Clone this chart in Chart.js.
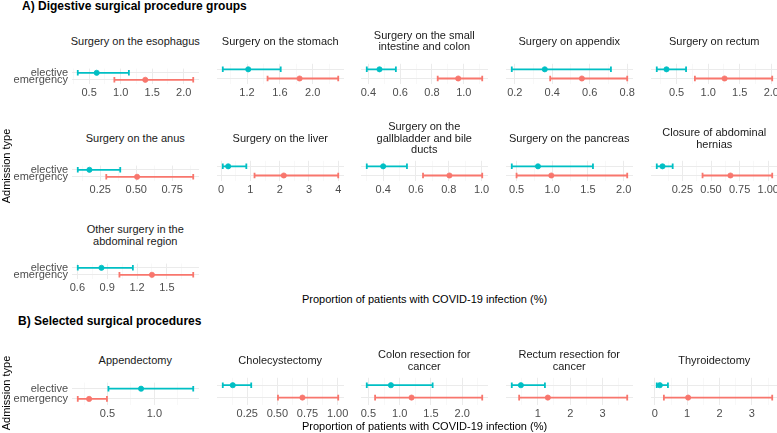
<!DOCTYPE html>
<html>
<head>
<meta charset="utf-8">
<script src="https://cdn.jsdelivr.net/npm/chart.js@4.4.1/dist/chart.umd.min.js"></script>
<style>
  html, body { margin: 0; padding: 0; background: #fff; }
  #page { position: relative; width: 777px; height: 433px; overflow: hidden; font-family: "Liberation Sans", Arial, sans-serif; }
  .txt { position: absolute; white-space: pre; }
  .heading { font-weight: bold; font-size: 12px; color: #000; transform: translateY(-50%); }
  .strip { font-size: 11px; color: #1A1A1A; text-align: center; line-height: 11.7px; transform: translate(-50%, -50%); }
  .axtitle { font-size: 11px; color: #000; transform: translate(-50%, -50%); }
  .ytitle { font-size: 11px; color: #000; transform: translate(-50%, -50%) rotate(-90deg); }
  .pc { position: absolute; }
</style>
</head>
<body>
<div id="page"></div>
<script>
// ---------------- DATA ----------------
const admissionTypes = ["elective", "emergency"];

// A) Digestive surgical procedure groups
const groupTitles = [
  "Surgery on the esophagus",
  "Surgery on the stomach",
  "Surgery on the small\nintestine and colon",
  "Surgery on appendix",
  "Surgery on rectum",
  "Surgery on the anus",
  "Surgery on the liver",
  "Surgery on the\ngallbladder and bile\nducts",
  "Surgery on the pancreas",
  "Closure of abdominal\nhernias",
  "Other surgery in the\nabdominal region"
];
const groupElectiveEst   = [0.62, 1.215, 0.47, 0.36, 0.34, 0.175, 0.24, 0.40, 0.80, 0.076, 0.842];
const groupElectiveLow   = [0.32, 0.905, 0.39, 0.184, 0.186, 0.094, 0.055, 0.30, 0.433, 0.026, 0.604];
const groupElectiveHigh  = [1.13, 1.61, 0.573, 0.713, 0.65, 0.389, 0.86, 0.545, 1.57, 0.165, 1.158];
const groupEmergencyEst  = [1.39, 1.84, 0.965, 0.558, 1.26, 0.506, 2.14, 0.804, 0.987, 0.67, 1.35];
const groupEmergencyLow  = [0.90, 1.45, 0.836, 0.389, 0.79, 0.292, 1.14, 0.643, 0.50, 0.426, 1.023];
const groupEmergencyHigh = [2.15, 2.31, 1.116, 0.80, 2.015, 0.896, 4.0, 1.004, 2.05, 1.035, 1.765];
const groupTickLabels = [
  ["0.5", "1.0", "1.5", "2.0"],
  ["1.2", "1.6", "2.0"],
  ["0.4", "0.6", "0.8", "1.0"],
  ["0.2", "0.4", "0.6", "0.8"],
  ["0.5", "1.0", "1.5", "2.0"],
  ["0.25", "0.50", "0.75"],
  ["0", "1", "2", "3", "4"],
  ["0.4", "0.6", "0.8", "1.0"],
  ["0.5", "1.0", "1.5", "2.0"],
  ["0.25", "0.50", "0.75", "1.00"],
  ["0.6", "0.9", "1.2", "1.5"]
];

// B) Selected surgical procedures
const procTitles = [
  "Appendectomy",
  "Cholecystectomy",
  "Colon resection for\ncancer",
  "Rectum resection for\ncancer",
  "Thyroidectomy"
];
const procElectiveEst   = [0.858, 0.13, 0.86, 0.478, 0.155];
const procElectiveLow   = [0.51, 0.047, 0.474, 0.197, 0.06];
const procElectiveHigh  = [1.414, 0.283, 1.527, 1.22, 0.405];
const procEmergencyEst  = [0.304, 0.708, 1.19, 1.31, 1.03];
const procEmergencyLow  = [0.183, 0.505, 0.607, 0.425, 0.28];
const procEmergencyHigh = [0.494, 1.005, 2.32, 3.76, 3.63];
const procTickLabels = [
  ["0.5", "1.0"],
  ["0.25", "0.50", "0.75", "1.00"],
  ["0.5", "1.0", "1.5", "2.0"],
  ["1", "2", "3"],
  ["0", "1", "2", "3"]
];

const xAxisTitle = "Proportion of patients with COVID-19 infection (%)";
const yAxisTitle = "Admission type";
const headingA = "A) Digestive surgical procedure groups";
const headingB = "B) Selected surgical procedures";

// ---------------- STYLE / LAYOUT ----------------
const colElective = "#00BFC4";
const colEmergency = "#F8766D";
const gridMajor = "#EBEBEB";
const gridMinor = "#F4F4F4";

Chart.defaults.font.family = '"Liberation Sans", Arial, sans-serif';
Chart.defaults.font.size = 11;
Chart.defaults.color = "#4D4D4D";

const page = document.getElementById("page");
const colX0 = 72, colPitch = 144.65, panelW = 126.5;
const yLabelW = 72;

function addText(cls, text, x, y) {
  const d = document.createElement("div");
  d.className = "txt " + cls;
  d.textContent = text;
  d.style.left = x + "px";
  d.style.top = y + "px";
  page.appendChild(d);
  return d;
}

function makePanel(col, plotTop, plotH, title, stripY, tickLabels, eLo, eEst, eHi, mLo, mEst, mHi) {
  const plotLeft = Math.round(colX0 + colPitch * col);
  const showY = col === 0;
  const padL = showY ? 0 : 22;
  const padR = 22;
  const padT = 4;
  const axisH = 20;
  const yW = showY ? yLabelW : 0;
  const cw = padL + yW + Math.round(panelW) + padR;
  const ch = padT + Math.round(plotH) + axisH;

  const wrap = document.createElement("div");
  wrap.className = "pc";
  wrap.style.left = (plotLeft - padL - yW) + "px";
  wrap.style.top = Math.round(plotTop - padT) + "px";
  wrap.style.width = cw + "px";
  wrap.style.height = ch + "px";
  const cv = document.createElement("canvas");
  cv.width = cw; cv.height = ch;
  cv.style.width = cw + "px"; cv.style.height = ch + "px";
  wrap.appendChild(cv);
  page.appendChild(wrap);

  addText("strip", title, plotLeft + panelW / 2, stripY);

  const majors = tickLabels.map(Number);
  const lo = Math.min(eLo, mLo), hi = Math.max(eHi, mHi);
  const ex = (hi - lo) * 0.05;
  const xmin = lo - ex, xmax = hi + ex;
  const step = majors.length > 1 ? majors[1] - majors[0] : 0.5;
  const minors = majors.map(m => m - step / 2).concat([majors[majors.length - 1] + step / 2])
    .filter(v => v >= xmin && v <= xmax);
  const isMajor = v => majors.some(m => Math.abs(m - v) < 1e-9);
  const labelFor = v => {
    const i = majors.findIndex(m => Math.abs(m - v) < 1e-9);
    return i >= 0 ? tickLabels[i] : "";
  };

  const capStyle = (color) => ({
    showLine: true,
    borderColor: color,
    borderWidth: 1.8,
    pointStyle: "line",
    pointRotation: 90,
    pointRadius: 2.8,
    pointBorderWidth: 1.8,
    pointBorderColor: color,
    pointBackgroundColor: color
  });

  new Chart(cv, {
    type: "scatter",
    data: {
      datasets: [
        { data: [{ x: eEst, y: 0 }], pointRadius: 2.6, borderWidth: 0.8, backgroundColor: colElective, borderColor: colElective },
        { data: [{ x: mEst, y: 1 }], pointRadius: 2.6, borderWidth: 0.8, backgroundColor: colEmergency, borderColor: colEmergency },
        Object.assign({ data: [{ x: eLo, y: 0 }, { x: eHi, y: 0 }] }, capStyle(colElective)),
        Object.assign({ data: [{ x: mLo, y: 1 }, { x: mHi, y: 1 }] }, capStyle(colEmergency))
      ]
    },
    options: {
      responsive: false,
      animation: false,
      events: [],
      devicePixelRatio: 1,
      layout: { padding: { left: padL, right: padR, top: padT, bottom: 0 } },
      plugins: { legend: { display: false }, tooltip: { enabled: false } },
      scales: {
        x: {
          type: "linear",
          min: xmin, max: xmax,
          border: { display: false },
          grid: {
            drawTicks: false,
            color: c => (c.tick && isMajor(c.tick.value)) ? gridMajor : gridMinor,
            lineWidth: c => (c.tick && isMajor(c.tick.value)) ? 1 : 0.6
          },
          ticks: {
            autoSkip: false, maxRotation: 0, padding: 2, color: "#4D4D4D",
            font: { size: 11 },
            callback: v => labelFor(v)
          },
          afterBuildTicks: s => {
            s.ticks = majors.concat(minors).sort((a, b) => a - b).map(v => ({ value: v }));
          },
          afterFit: s => { s.height = axisH; }
        },
        y: {
          type: "linear",
          min: -0.6, max: 1.6,
          reverse: true,
          border: { display: false },
          grid: { drawTicks: false, color: gridMajor, lineWidth: 1 },
          ticks: {
            display: showY, autoSkip: false, padding: 4, color: "#4D4D4D", font: { size: 11 },
            callback: v => admissionTypes[v]
          },
          afterBuildTicks: s => { s.ticks = [{ value: 0 }, { value: 1 }]; },
          afterFit: s => { s.width = yW; }
        }
      }
    }
  });
}

// ---------------- BUILD ----------------
addText("heading", headingA, 22, 6);
addText("heading", headingB, 18, 320.5);

const rowPitchA = 97.4;
for (let i = 0; i < groupTitles.length; i++) {
  const row = Math.floor(i / 5), col = i % 5;
  const elecY = 68 + rowPitchA * row;
  makePanel(col, elecY - 6, 22, groupTitles[i], 41.5 + rowPitchA * row, groupTickLabels[i],
    groupElectiveLow[i], groupElectiveEst[i], groupElectiveHigh[i],
    groupEmergencyLow[i], groupEmergencyEst[i], groupEmergencyHigh[i]);
}
for (let i = 0; i < procTitles.length; i++) {
  makePanel(i, 384 - 7.8, 28.6, procTitles[i], 361, procTickLabels[i],
    procElectiveLow[i], procElectiveEst[i], procElectiveHigh[i],
    procEmergencyLow[i], procEmergencyEst[i], procEmergencyHigh[i]);
}

addText("axtitle", xAxisTitle, 424.5, 299);
addText("axtitle", xAxisTitle, 424.5, 425.7);
addText("ytitle", yAxisTitle, 6, 165.5);
addText("ytitle", yAxisTitle, 6, 393);
</script>
</body>
</html>
